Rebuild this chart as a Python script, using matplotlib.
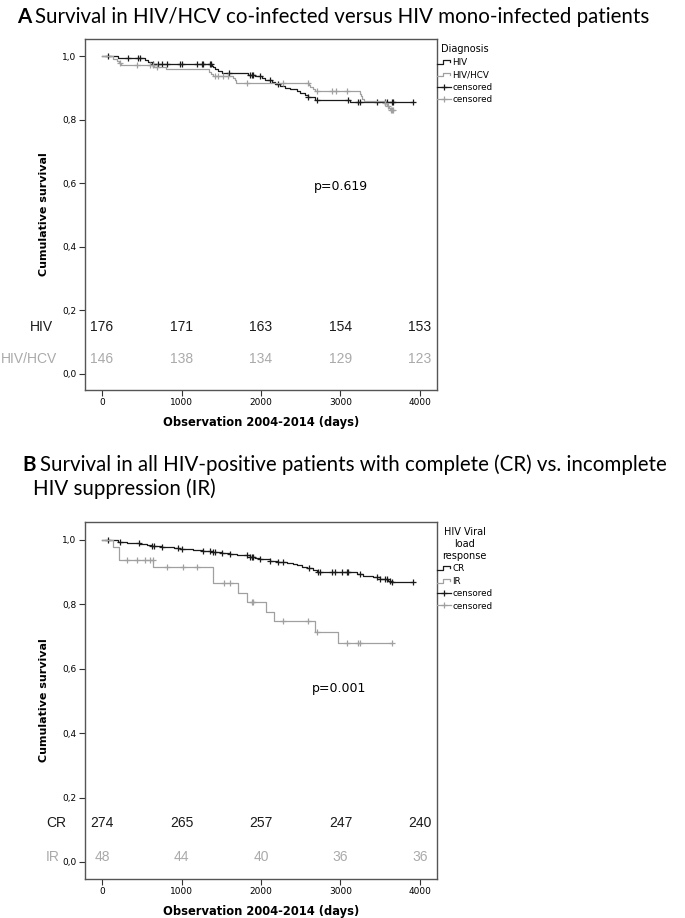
import matplotlib
matplotlib.use('Agg')
import matplotlib.pyplot as plt
import numpy as np
from matplotlib.lines import Line2D
from matplotlib.legend_handler import HandlerBase
from matplotlib.transforms import blended_transform_factory

# ---- panel A: HIV vs HIV/HCV ----
hiv_t = [0, 205, 541, 583, 625, 1380, 1400, 1421, 1463, 1505, 1840, 1925, 2008,
         2050, 2134, 2176, 2239, 2302, 2365, 2449, 2491, 2553, 2595, 2680, 3120]
hiv_s = [1.0, 0.994, 0.989, 0.983, 0.977, 0.971, 0.966, 0.960, 0.954, 0.949,
         0.943, 0.937, 0.931, 0.926, 0.920, 0.914, 0.908, 0.902, 0.897, 0.891,
         0.885, 0.879, 0.873, 0.863, 0.856]
hiv_end = 3916
hiv_cens = [80, 331, 457, 478, 646, 709, 751, 814, 981, 1002, 1191, 1254, 1275,
            1358, 1370, 1602, 1862, 1883, 1904, 1987, 2113, 2218, 2595, 2700,
            3099, 3224, 3245, 3455, 3560, 3581, 3644, 3656, 3916]

hcv_t = [0, 140, 185, 215, 240, 650, 800, 1340, 1370, 1400, 1650, 1670, 1690,
         2600, 2620, 2650, 2680, 3250, 3260, 3275, 3290, 3560, 3590, 3610, 3625]
hcv_s = [1.0, 0.993, 0.986, 0.979, 0.973, 0.966, 0.959, 0.952, 0.945, 0.938,
         0.932, 0.925, 0.918, 0.911, 0.904, 0.897, 0.890, 0.883, 0.876, 0.866,
         0.859, 0.852, 0.845, 0.838, 0.831]
hcv_end = 3660
hcv_cens = [226, 436, 604, 646, 688, 1421, 1463, 1526, 1589, 1820, 2281, 2594,
            2700, 2889, 2943, 3078, 3560, 3600, 3630, 3650, 3660]

# ---- panel B: CR vs IR ----
cr_t = [0, 205, 310, 478, 560, 625, 751, 900, 981, 1150, 1275, 1380, 1505, 1610,
        1700, 1862, 1930, 1987, 2113, 2218, 2323, 2400, 2449, 2520, 2574, 2658,
        2700, 3203, 3287, 3413, 3497, 3600, 3640]
cr_s = [1.0, 0.995, 0.990, 0.987, 0.984, 0.980, 0.977, 0.974, 0.971, 0.969,
        0.966, 0.962, 0.959, 0.955, 0.952, 0.948, 0.944, 0.941, 0.936, 0.933,
        0.929, 0.925, 0.921, 0.917, 0.913, 0.906, 0.900, 0.895, 0.889, 0.884,
        0.878, 0.872, 0.869]
cr_end = 3916
cr_cens = [80, 225, 470, 625, 650, 751, 960, 1000, 1275, 1358, 1390, 1420, 1505,
           1610, 1820, 1862, 1883, 1900, 1987, 2113, 2218, 2281, 2608, 2716,
           2742, 2890, 2930, 3020, 3080, 3099, 3245, 3455, 3497, 3560, 3581,
           3623, 3644, 3916]

ir_t = [0, 142, 218, 646, 1400, 1715, 1820, 2063, 2164, 2679, 2973]
ir_s = [1.0, 0.979, 0.9375, 0.9167, 0.865, 0.834, 0.808, 0.777, 0.748, 0.715, 0.681]
ir_end = 3650
ir_cens = [310, 436, 541, 604, 640, 813, 1023, 1191, 1530, 1610, 1883, 1904,
           2281, 2595, 2700, 3078, 3224, 3245, 3644]

# ---- numbers at risk ----
risk_times = [0, 1000, 2000, 3000, 4000]
hiv_risk = [176, 171, 163, 154, 153]
hcv_risk = [146, 138, 134, 129, 123]
cr_risk = [274, 265, 257, 247, 240]
ir_risk = [48, 44, 40, 36, 36]

x_ticks = [0, 1000, 2000, 3000, 4000]
y_ticks = [0.0, 0.2, 0.4, 0.6, 0.8, 1.0]
y_tick_labels = ['0,0', '0,2', '0,4', '0,6', '0,8', '1,0']

BLACK = '#1a1a1a'
GRAY = '#a0a0a0'
GRAY_TXT = '#aaaaaa'
TITLE_SIZE = 14.8


class StepHandler(HandlerBase):
    # draws the little step glyph SPSS uses in its legend
    def create_artists(self, legend, orig_handle, xdescent, ydescent,
                       width, height, fontsize, trans):
        xs = np.array([0, 0.4, 0.4, 0.95, 0.95]) * width - xdescent
        ys = np.array([0.15, 0.15, 0.75, 0.75, 0.45]) * height - ydescent
        ln = Line2D(xs, ys, color=orig_handle.get_color(), lw=0.9,
                    transform=trans)
        return [ln]


def draw_km(ax, t, s, end, cens, color):
    tt = list(t) + [end]
    ss = list(s) + [s[-1]]
    line, = ax.step(tt, ss, where='post', color=color, lw=0.9)
    idx = np.searchsorted(t, cens, side='right') - 1
    cs = np.array(s)[idx]
    ax.plot(cens, cs, ls='none', marker='+', ms=5, mew=0.9, color=color)
    return line


def setup_axes(ax, ylo, yhi):
    ax.set_xlim(-214, 4214)
    ax.set_ylim(ylo, yhi)
    ax.set_xticks(x_ticks)
    ax.set_xticklabels([str(v) for v in x_ticks])
    ax.set_yticks(y_ticks)
    ax.set_yticklabels(y_tick_labels)
    ax.tick_params(direction='out', length=4, width=0.8, labelsize=6.5,
                   color='#333333', pad=2)
    for sp in ax.spines.values():
        sp.set_color('#555555')
        sp.set_linewidth(1.0)
    ax.set_ylabel('Cumulative survival', fontsize=8, fontweight='bold', labelpad=10)
    ax.set_xlabel('Observation 2004-2014 (days)', fontsize=8.3,
                  fontweight='bold', labelpad=6)


def add_risk(ax, label, values, y, color, ha, xlab):
    tr = blended_transform_factory(ax.transAxes, ax.transData)
    ax.text(xlab, y, label, transform=tr, ha=ha, va='center', fontsize=10,
            family='Liberation Sans', color=color, clip_on=False)
    for xv, v in zip(risk_times, values):
        ax.text(xv, y, str(v), ha='center', va='center', fontsize=10,
                family='Liberation Sans', color=color)


def add_legend(ax, title, lines, labels):
    handles = [lines[0], lines[1],
               Line2D([], [], color=BLACK, lw=0.9, marker='+', ms=5, mew=0.9),
               Line2D([], [], color=GRAY, lw=0.9, marker='+', ms=5, mew=0.9)]
    leg = ax.legend(handles, labels + ['censored', 'censored'], title=title,
                    loc='upper left', bbox_to_anchor=(1.0, 0.985),
                    frameon=False, fontsize=6.3, title_fontsize=7,
                    handlelength=1.6, handletextpad=0.15, labelspacing=0.4,
                    borderaxespad=0, borderpad=0, numpoints=1,
                    handler_map={lines[0]: StepHandler(), lines[1]: StepHandler()})
    leg._legend_box.align = 'center'
    leg.get_title().set_multialignment('center')
    return leg


fig = plt.figure(figsize=(6.85, 9.18), dpi=100)

# titles
def title(x, y, lead, rest):
    t1 = fig.text(x, y, lead, fontsize=TITLE_SIZE, family='Lato',
                  fontweight='bold', va='center')
    fig.canvas.draw()
    bb = t1.get_window_extent()
    fig.text((bb.x1 + 4) / fig.bbox.width, y, rest, fontsize=TITLE_SIZE,
             family='Lato', va='center')

title(17 / 685, 1 - 17 / 918, 'A',
      'Survival in HIV/HCV co-infected versus HIV mono-infected patients')
title(22 / 685, 1 - 465 / 918, 'B',
      'Survival in all HIV-positive patients with complete (CR) vs. incomplete')
fig.text(33 / 685, 1 - 489 / 918, 'HIV suppression (IR)', fontsize=TITLE_SIZE,
         family='Lato', va='center')

# panel A
axA = fig.add_axes([85 / 685, 1 - 390 / 918, 352 / 685, 351 / 918])
setup_axes(axA, -0.0504, 1.055)
lA1 = draw_km(axA, hiv_t, hiv_s, hiv_end, hiv_cens, BLACK)
lA2 = draw_km(axA, hcv_t, hcv_s, hcv_end, hcv_cens, GRAY)
axA.text(3006, 0.592, 'p=0.619', ha='center', va='center', fontsize=9)
add_risk(axA, 'HIV', hiv_risk, 0.148, BLACK, 'right', -0.09)
add_risk(axA, 'HIV/HCV', hcv_risk, 0.047, GRAY_TXT, 'right', -0.08)
add_legend(axA, 'Diagnosis', [lA1, lA2], ['HIV', 'HIV/HCV'])

# panel B
axB = fig.add_axes([85 / 685, 1 - 879 / 918, 352 / 685, 357 / 918])
setup_axes(axB, -0.0528, 1.0559)
lB1 = draw_km(axB, cr_t, cr_s, cr_end, cr_cens, BLACK)
lB2 = draw_km(axB, ir_t, ir_s, ir_end, ir_cens, GRAY)
axB.text(2980, 0.540, 'p=0.001', ha='center', va='center', fontsize=9)
add_risk(axB, 'CR', cr_risk, 0.121, BLACK, 'left', -0.111)
add_risk(axB, 'IR', ir_risk, 0.016, GRAY_TXT, 'left', -0.111)
add_legend(axB, 'HIV Viral\nload\nresponse', [lB1, lB2], ['CR', 'IR'])

fig.savefig('out.png', dpi=100)
